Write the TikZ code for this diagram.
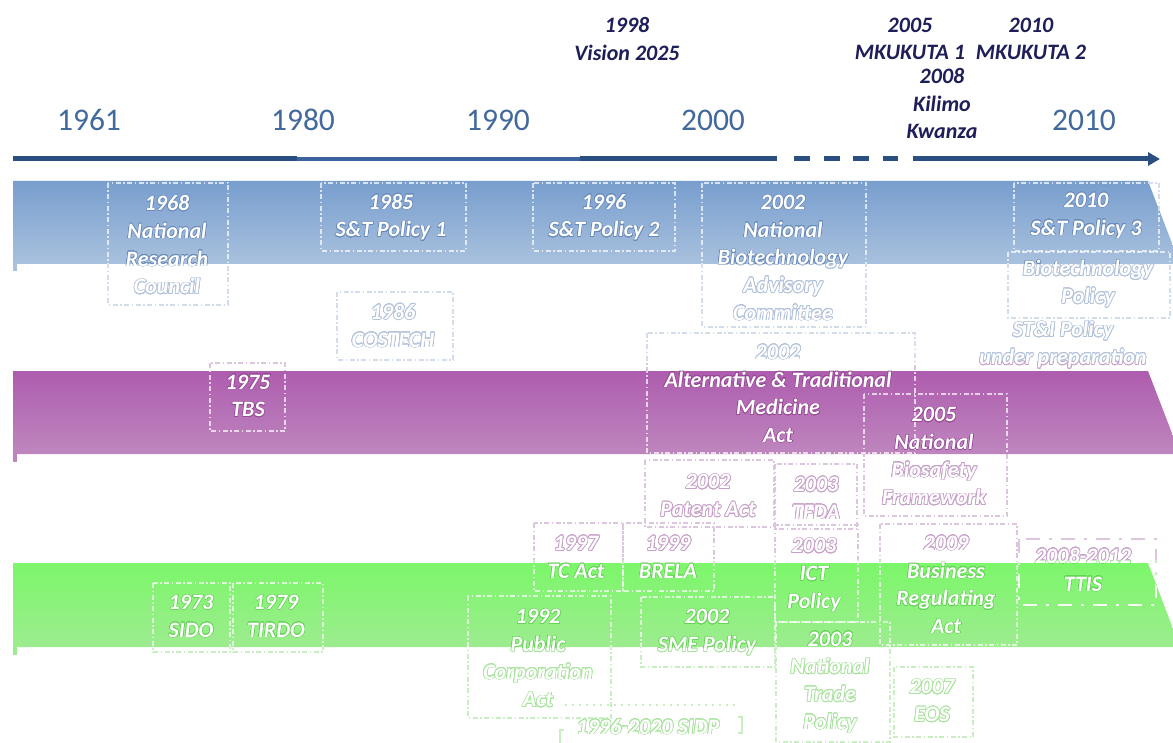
\documentclass[tikz,border=0pt]{standalone}
\usepackage{fontspec}
\usepackage{contour}
\usetikzlibrary{arrows.meta}
\newfontfamily\carlito{Carlito}
\contourlength{0.7pt}
\contournumber{24}

\definecolor{blueTop}{HTML}{789ECE}
\definecolor{blueBot}{HTML}{A9C1DE}
\definecolor{purpTop}{HTML}{AE5DAE}
\definecolor{purpBot}{HTML}{BE86BE}
\definecolor{greenTop}{HTML}{7CF66A}
\definecolor{greenBot}{HTML}{9DEC8F}
\definecolor{axisDark}{HTML}{2A5082}
\definecolor{axisLight}{HTML}{3B63A0}
\definecolor{yearCol}{HTML}{42699C}
\definecolor{navy}{HTML}{1E1E58}
\colorlet{ocol}{white}
\colorlet{bcol}{white}

% \ct prints one line of a label; in outline mode it gets a contour
\newcommand\ct[1]{#1}
\newcommand\outlinetext{\renewcommand\ct[1]{\contour{ocol}{##1}}}

\tikzset{
  lbl/.style={text=white, inner sep=0pt, align=center,
    font=\carlito\bfseries\itshape\fontsize{22}{27.7}\selectfont},
  toplbl/.style={text=navy, inner sep=0pt, align=center,
    font=\carlito\bfseries\itshape\fontsize{22}{27.7}\selectfont},
  yearlbl/.style={text=yearCol, inner sep=0pt,
    font=\carlito\fontsize{31.5}{36}\selectfont},
  boxline/.style={draw=bcol, line width=1.3pt,
    dash pattern=on 5pt off 2.5pt on 1.5pt off 2.5pt},
  thickbox/.style={draw=bcol, line width=2.6pt,
    dash pattern=on 14pt off 9pt on 3pt off 9pt},
  bracket/.style={draw=bcol, line width=2pt},
  axis/.style={line width=5pt, draw=axisDark},
}

% dash-dot frames round the policy labels
\newcommand\policyboxes{%
  \draw[boxline] (108,183) rectangle (228,305);
  \draw[boxline] (321,183) rectangle (466,251);
  \draw[boxline] (533,183) rectangle (675,251);
  \draw[boxline] (702,183) rectangle (866,327);
  \draw[boxline] (1014,183) rectangle (1159,251);
  \draw[boxline] (1008,252) rectangle (1170,318);
  \draw[boxline] (337,292) rectangle (453,360);
  \draw[boxline] (210,363) rectangle (285,431);
  \draw[boxline] (647,333) rectangle (915,453);
  \draw[boxline] (864,394) rectangle (1007,516);
  \draw[boxline] (645,460) rectangle (774,527);
  \draw[boxline] (775,464) rectangle (857,529);
  \draw[boxline] (153,583) rectangle (230,652);
  \draw[boxline] (233,583) rectangle (323,652);
  \draw[boxline] (534,523) rectangle (623,591);
  \draw[boxline] (623,523) rectangle (714,591);
  \draw[boxline] (468,596) rectangle (611,718);
  \draw[boxline] (641,597) rectangle (775,667);
  \draw[boxline] (775,525) rectangle (858,622);
  \draw[boxline] (776,622) rectangle (890,742);
  \draw[boxline] (880,524) rectangle (1017,645);
  \draw[boxline] (894,667) rectangle (973,737);
  \draw[thickbox] (1019,539) rectangle (1156,605);
  % open frame of the SIDP period
  \draw[boxline, dash pattern=on 2pt off 5pt] (565,705) -- (740,705);
  \draw[bracket] (564,730) -- (560,730) -- (560,743);
  \draw[bracket] (738,717) -- (742,717) -- (742,733) -- (738,733);
}

% the policy and institution labels
\newcommand\policylabels{%
  \node[lbl] (nrc) at (167,245) {\ct{1968}\\\ct{National}\\\ct{Research}\\\ct{Council}};
  \node[lbl] (st1) at (391,217.5) {\ct{1985}\\\ct{S\&T Policy 1}};
  \node[lbl] (st2) at (604,217.5) {\ct{1996}\\\ct{S\&T Policy 2}};
  \node[lbl] (nbac) at (783,258) {\ct{2002}\\\ct{National}\\\ct{Biotechnology}\\\ct{Advisory}\\\ct{Committee}};
  \node[lbl] (st3) at (1086,216) {\ct{2010}\\\ct{S\&T Policy 3}};
  \node[lbl] (biopol) at (1088,284) {\ct{Biotechnology}\\\ct{Policy}};
  \node[lbl] (sti) at (1063,345) {\ct{ST\&I Policy}\\\ct{under preparation}};
  \node[lbl] (costech) at (393,326) {\ct{1986}\\\ct{COSTECH}};
  \node[lbl] (tbs) at (248,396) {\ct{1975}\\\ct{TBS}};
  \node[lbl] (atm) at (778,394) {\ct{2002}\\\ct{Alternative \& Traditional}\\\ct{Medicine}\\\ct{Act}};
  \node[lbl] (nbf) at (934,456.5) {\ct{2005}\\\ct{National}\\\ct{Biosafety}\\\ct{Framework}};
  \node[lbl] (patent) at (708,496) {\ct{2002}\\\ct{Patent Act}};
  \node[lbl] (tfda) at (816,498.5) {\ct{2003}\\\ct{TFDA}};
  \node[lbl] (sido) at (191,616.5) {\ct{1973}\\\ct{SIDO}};
  \node[lbl] (tirdo) at (276,616.5) {\ct{1979}\\\ct{TIRDO}};
  \node[lbl] (tcact) at (576,557.5) {\ct{1997}\\\ct{TC Act}};
  \node[lbl] (brela) at (668,557.5) {\ct{1999}\\\ct{BRELA}};
  \node[lbl] (pca) at (538,658.5) {\ct{1992}\\\ct{Public}\\\ct{Corporation}\\\ct{Act}};
  \node[lbl] (sme) at (707,632.5) {\ct{2002}\\\ct{SME Policy}};
  \node[lbl] (ict) at (814,575.5) {\ct{2003}\\\ct{ICT}\\\ct{Policy}};
  \node[lbl] (ntp) at (830,682.5) {\ct{2003}\\\ct{National}\\\ct{Trade}\\\ct{Policy}};
  \node[lbl] (bra) at (946,585) {\ct{2009}\\\ct{Business}\\\ct{Regulating}\\\ct{Act}};
  \node[lbl] (eos) at (932,701) {\ct{2007}\\\ct{EOS}};
  \node[lbl] (ttis) at (1083,570) {\ct{2008-2012}\\\ct{TTIS}};
  \node[lbl] (sidp) at (648,727) {\ct{1996-2020 SIDP}};
}

\begin{document}
\begin{tikzpicture}[x=1pt,y=-1pt]
\useasboundingbox (0,0) rectangle (1173,743);
\clip (0,0) rectangle (1173,743);
\fill[white] (0,0) rectangle (1173,743);

% labels and frames on white ground: pale outlines, tinted by the band above
\begin{scope}
  \outlinetext
  \begin{scope}
    \clip (0,0) rectangle (1173,362);
    \definecolor{ocol}{HTML}{B4C3DC}\definecolor{bcol}{HTML}{D3DCEB}
    \policyboxes \policylabels
  \end{scope}
  \begin{scope}
    \clip (0,362) rectangle (1173,560);
    \definecolor{ocol}{HTML}{C8A2CA}\definecolor{bcol}{HTML}{DCC6DD}
    \policyboxes \policylabels
  \end{scope}
  \begin{scope}
    \clip (0,560) rectangle (1173,743);
    \definecolor{ocol}{HTML}{ABE4A0}\definecolor{bcol}{HTML}{C9EEC2}
    \policyboxes \policylabels
  \end{scope}
\end{scope}

% bands
\shade[top color=blueTop, bottom color=blueBot]
  (13,181) -- (1148,181) -- (1180,264) -- (13,264) -- cycle;
\fill[blueBot] (13,264) rectangle (16.5,271);
\shade[top color=purpTop, bottom color=purpBot]
  (13,371) -- (1148,371) -- (1180,454) -- (13,454) -- cycle;
\fill[purpBot] (13,454) rectangle (16.5,462);
\shade[top color=greenTop, bottom color=greenBot]
  (13,563) -- (1148,563) -- (1180,647) -- (13,647) -- cycle;
\fill[greenBot] (13,647) rectangle (16.5,655);

% labels and frames inside the bands: white, with a faint darker rim
\begin{scope}
  \outlinetext
  \contourlength{0.45pt}
  \tikzset{boxline/.append style={draw opacity=0.7}, thickbox/.append style={draw opacity=0.9}}
  \begin{scope}
    \clip (13,181) -- (1148,181) -- (1180,264) -- (13,264) -- cycle;
    \definecolor{ocol}{HTML}{6A8BBA}
    \policyboxes \policylabels
  \end{scope}
  \begin{scope}
    \clip (13,371) -- (1148,371) -- (1180,454) -- (13,454) -- cycle;
    \definecolor{ocol}{HTML}{984A98}
    \policyboxes \policylabels
  \end{scope}
  \begin{scope}
    \clip (13,563) -- (1148,563) -- (1180,647) -- (13,647) -- cycle;
    \definecolor{ocol}{HTML}{66D456}
    \policyboxes \policylabels
  \end{scope}
\end{scope}

% time axis
\coordinate (a0) at (13,159);
\coordinate (a1) at (297,159);
\coordinate (a2) at (580,159);
\coordinate (a3) at (777,159);
\coordinate (d0) at (794,159);
\coordinate (d1) at (898,159);
\coordinate (a4) at (913,159);
\coordinate (a5) at (1160,159);
\draw[axis] (a0) -- (a1);
\draw[axis, draw=axisLight, line width=4pt] (a1) -- (a2);
\draw[axis] (a2) -- (a3);
\draw[axis, dash pattern=on 16pt off 13.5pt] (d0) -- (d1);
\draw[axis, -{Triangle[length=12pt,width=13pt]}] (a4) -- (a5);

% decade markers
\node[yearlbl] (y1961) at (89,120) {1961};
\node[yearlbl] (y1980) at (303,120) {1980};
\node[yearlbl] (y1990) at (498,120) {1990};
\node[yearlbl] (y2000) at (713,120) {2000};
\node[yearlbl] (y2010) at (1084,120) {2010};

% national strategies
\node[toplbl] (vision) at (627,39) {1998\\Vision 2025};
\node[toplbl] (mk1) at (910,39) {2005\\MKUKUTA 1};
\node[toplbl] (kilimo) at (942,103.5) {2008\\Kilimo\\Kwanza};
\node[toplbl] (mk2) at (1031,39) {2010\\MKUKUTA 2};
\end{tikzpicture}
\end{document}
